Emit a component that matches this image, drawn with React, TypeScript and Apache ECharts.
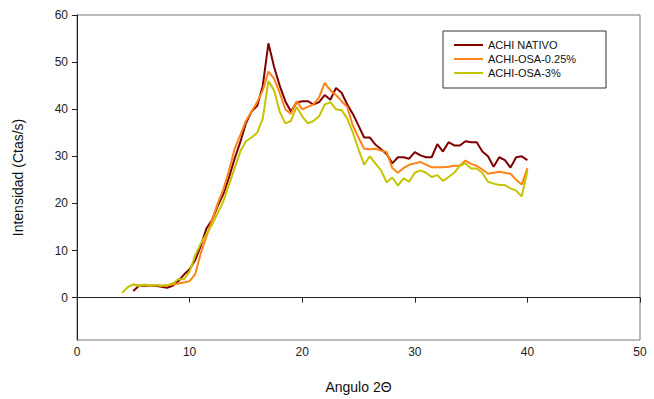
import React, { useEffect, useRef } from "react";
import * as echarts from "echarts";

const angle = [
  4, 4.5, 5, 5.5, 6, 6.5, 7, 7.5, 8, 8.5, 9, 9.5, 10, 10.5, 11, 11.5, 12, 12.5, 13, 13.5,
  14, 14.5, 15, 15.5, 16, 16.5, 17, 17.5, 18, 18.5, 19, 19.5, 20, 20.5, 21, 21.5, 22, 22.5,
  23, 23.5, 24, 24.5, 25, 25.5, 26, 26.5, 27, 27.5, 28, 28.5, 29, 29.5, 30, 30.5, 31, 31.5,
  32, 32.5, 33, 33.5, 34, 34.5, 35, 35.5, 36, 36.5, 37, 37.5, 38, 38.5, 39, 39.5, 40,
];

const nativo = [
  null, null, 1.4, 2.5, 2.5, 2.5, 2.5, 2.3, 2.1, 2.5, 3.5, 4.9, 6, 8, 11, 14.7, 16.5, 19.5, 22, 25.5,
  29.5, 33, 37, 39.5, 40.7, 45, 54, 49, 45, 41.7, 39.5, 41.4, 41.7, 41.7, 41, 41.5, 43, 42,
  44.5, 43.5, 41, 39, 36.5, 34, 34, 32.5, 31.5, 30.5, 28.5, 29.8, 29.8, 29.5, 30.9, 30.2, 29.8, 29.8,
  32.6, 31, 33, 32.3, 32.3, 33.2, 33, 33, 31, 30, 27.8, 29.8, 29.2, 27.6, 29.8, 30, 29.2,
];

const osa025 = [
  null, null, 2.8, 2.5, 2.7, 2.5, 2.7, 2.5, 2.6, 2.8, 3, 3.2, 3.5, 5, 9.5, 13, 16.5, 20, 23, 27,
  31.6, 34.5, 37.5, 39.5, 41.5, 44, 48, 46.5, 43.5, 40, 39, 41.7, 40, 40.5, 41, 42.5, 45.6, 44,
  43, 41.7, 40.5, 36.5, 34, 31.6, 31.5, 31.6, 31.2, 30.9, 27.5, 26.5, 27.5, 28.2, 28.5, 28.8, 28.2, 27.7,
  27.7, 27.7, 27.8, 28, 28, 29.1, 28.4, 28, 27.2, 26.3, 26.5, 26.7, 26.5, 26.3, 25, 24, 27.5,
];

const osa3 = [
  1, 2.2, 2.8, 2.5, 2.8, 2.5, 2.7, 2.5, 2.6, 3, 3.9, 3.9, 5.5, 9, 11.5, 13.5, 15.5, 18, 20.5, 24,
  27.5, 31, 33.2, 34, 35, 38, 46, 44, 39.5, 37, 37.5, 40.5, 38.5, 37, 37.5, 38.5, 41, 41.5,
  40, 39.8, 38, 35, 31.5, 28.2, 30, 28.5, 27, 24.5, 25.5, 23.8, 25.3, 24.6, 26.5, 27, 26.5, 25.6,
  26, 24.8, 25.6, 26.5, 28, 28.5, 27.4, 27.4, 26.5, 24.6, 24.2, 23.9, 23.9, 23.2, 22.7, 21.5, 27,
];

const seriesNames = ["ACHI NATIVO", "ACHI-OSA-0.25%", "ACHI-OSA-3%"];
const seriesColors = ["#800000", "#ff8418", "#c4c400"];
const yTicks = [0, 10, 20, 30, 40, 50, 60];

const pairs = (vals: (number | null)[]) =>
  angle.map((x, i) => [x, vals[i]]).filter((p) => p[1] !== null);

export default function App() {
  const ref = useRef<HTMLDivElement>(null);
  useEffect(() => {
    if (!ref.current) return;
    const chart = echarts.init(ref.current, undefined, { renderer: "svg" });
    const font = "'Liberation Sans', Arial, sans-serif";
    const allVals = [nativo, osa025, osa3];
    chart.setOption({
      animation: false,
      backgroundColor: "#ffffff",
      textStyle: { fontFamily: font },
      grid: {
        left: 77,
        right: 14,
        top: 15,
        bottom: 56,
        show: true,
        borderColor: "#777",
        borderWidth: 1,
        backgroundColor: "transparent",
      },
      legend: {
        orient: "vertical",
        left: 443,
        top: 31,
        padding: [8, 30, 9, 11],
        borderColor: "#333",
        borderWidth: 1,
        itemWidth: 29,
        itemHeight: 2,
        itemGap: 2,
        icon: "rect",
        data: seriesNames,
        textStyle: { fontSize: 11, color: "#111", fontFamily: font, lineHeight: 12 },
      },
      xAxis: {
        type: "value",
        min: 0,
        max: 50,
        interval: 10,
        name: "Angulo 2Θ",
        nameLocation: "middle",
        nameGap: 40,
        nameTextStyle: { fontSize: 14, color: "#111", fontFamily: font },
        axisLine: { lineStyle: { color: "#222", width: 1 } },
        axisTick: { show: true, length: 5, lineStyle: { color: "#222" } },
        axisLabel: { fontSize: 12, color: "#222", margin: 6, fontFamily: font },
        splitLine: { show: false },
      },
      yAxis: {
        type: "value",
        min: -9,
        max: 60,
        name: "Intensidad (Ctas/s)",
        nameLocation: "middle",
        nameGap: 52,
        nameTextStyle: { fontSize: 14, color: "#111", fontFamily: font },
        axisLine: { show: true, lineStyle: { color: "#222", width: 1 } },
        axisTick: { show: true, length: 5, customValues: yTicks, lineStyle: { color: "#222" } },
        axisLabel: { fontSize: 12, color: "#222", margin: 9, customValues: yTicks, fontFamily: font },
        splitLine: { show: false },
      },
      series: seriesNames.map((name, k) => ({
        name,
        type: "line",
        data: pairs(allVals[k]),
        symbol: "none",
        color: seriesColors[k],
        lineStyle: { width: 2, color: seriesColors[k] },
      })),
    });
    return () => chart.dispose();
  }, []);
  return <div ref={ref} style={{ width: 654, height: 399, position: "absolute", left: 0, top: 0 }} />;
}
